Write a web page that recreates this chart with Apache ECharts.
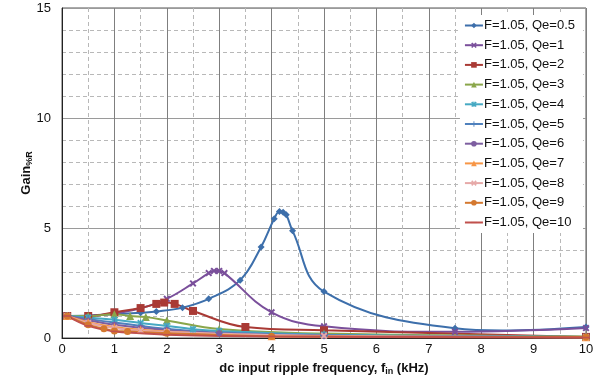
<!DOCTYPE html>
<html>
<head>
<meta charset="utf-8">
<script src="https://cdn.jsdelivr.net/npm/echarts@6/dist/echarts.min.js"></script>
<style>
  html, body { margin: 0; padding: 0; background: #fff; }
  #chart { width: 602px; height: 381px; }
</style>
</head>
<body>
<div id="chart"></div>
<script>
// values, [frequency kHz, gain]
const qe05 = [[0.1, 1.0], [0.5, 1.02], [1, 1.08], [1.5, 1.15], [1.8, 1.2], [2.3, 1.38], [2.8, 1.78], [3.4, 2.63], [3.8, 4.14], [4.05, 5.42], [4.15, 5.75], [4.22, 5.72], [4.28, 5.6], [4.4, 4.87], [5, 2.11], [7.5, 0.44], [8.4, 0.34], [10, 0.5]];
const qe1 = [[0.1, 1.0], [0.5, 1.0], [1, 1.12], [1.5, 1.35], [2, 1.78], [2.5, 2.48], [2.8, 2.95], [2.9, 3.05], [3.0, 3.05], [3.1, 2.95], [4, 1.17], [5, 0.53], [7.5, 0.28], [10, 0.45]];
const qe2 = [[0.1, 1.0], [0.5, 1.0], [1, 1.17], [1.5, 1.36], [1.8, 1.55], [1.95, 1.61], [2.15, 1.55], [2.5, 1.23], [3.5, 0.5], [5, 0.35], [10, 0.05]];
const qe3 = [[0.1, 1.0], [0.5, 1.0], [1, 1.08], [1.3, 1.0], [1.6, 0.95], [2, 0.8], [3, 0.41], [5, 0.2], [10, 0.07]];
const qe4 = [[0.1, 1.0], [0.5, 0.93], [1, 0.83], [1.5, 0.68], [2, 0.55], [2.5, 0.4], [3, 0.32], [5, 0.15], [10, 0.05]];
const qe5 = [[0.1, 1.0], [0.5, 0.86], [1, 0.7], [1.5, 0.55], [2, 0.42], [3, 0.25], [5, 0.12], [10, 0.04]];
const qe6 = [[0.1, 1.0], [0.5, 0.8], [1, 0.6], [1.5, 0.47], [2, 0.36], [3, 0.22], [5, 0.1], [10, 0.03]];
const qe7 = [[0.1, 1.0], [0.5, 0.72], [1, 0.5], [1.5, 0.38], [2, 0.3], [4, 0.08], [10, 0.03]];
const qe8 = [[0.1, 1.0], [0.5, 0.68], [1, 0.45], [1.5, 0.33], [2, 0.27], [5, 0.1], [10, 0.03]];
const qe9 = [[0.1, 1.0], [0.5, 0.6], [0.8, 0.42], [1, 0.32], [1.25, 0.3], [2, 0.22], [4, 0.08], [10, 0.04]];
const qe10 = [[0.1, 1.0], [0.5, 0.55], [1, 0.3], [1.5, 0.22], [2, 0.15], [4, 0.07], [10, 0.02]];
// the Qe=0.5 curve dips between its 7.5 and 10 markers; that point has no marker
const hiddenMarks = { 0: [8.4] };

const names = ['F=1.05, Qe=0.5', 'F=1.05, Qe=1', 'F=1.05, Qe=2', 'F=1.05, Qe=3', 'F=1.05, Qe=4',
  'F=1.05, Qe=5', 'F=1.05, Qe=6', 'F=1.05, Qe=7', 'F=1.05, Qe=8', 'F=1.05, Qe=9', 'F=1.05, Qe=10'];
const allData = [qe05, qe1, qe2, qe3, qe4, qe5, qe6, qe7, qe8, qe9, qe10];
const colors = ['#3d6fab', '#7a4f9b', '#a93a35', '#8aa64a', '#46a9c3', '#4f81bd', '#7d5ea0', '#f79646', '#e6a9a8', '#d4782f', '#c0504d'];

const xMark = 'path://M2,0L5,3L8,0L10,2L7,5L10,8L8,10L5,7L2,10L0,8L3,5L0,2Z';
const starMark = 'path://M2,0L5,3L8,0L10,2L7,5L10,8L8,10L5,7L2,10L0,8L3,5L0,2ZM4.2,0H5.8V10H4.2Z';
const plusMark = 'path://M4.2,0H5.8V4.2H10V5.8H5.8V10H4.2V5.8H0V4.2H4.2Z';
const dashMark = 'path://M0,0L0,0M0,4H10V6H0ZM10,10L10,10';
const symbols = ['diamond', xMark, 'rect', 'triangle', starMark, plusMark, 'circle', 'triangle', xMark, 'circle', dashMark];
const sizes = [7, 7, 8, 8, 7, 8, 6, 8, 7, 7, 8];

const chart = echarts.init(document.getElementById('chart'));

const font = 'Liberation Sans, Arial, sans-serif';

const subRich = {
  b: { fontSize: 13, fontWeight: 'bold', color: '#111', fontFamily: font },
  s: { fontSize: 9, fontWeight: 'bold', color: '#111', fontFamily: font, verticalAlign: 'bottom', padding: [6, 0, 0, 0] }
};

chart.setOption({
  animation: false,
  color: colors,
  textStyle: { fontFamily: font },
  grid: {
    left: 62, right: 16, top: 8, bottom: 41,
    show: true, borderColor: '#555', borderWidth: 1
  },
  legend: {
    orient: 'vertical',
    right: 19,
    top: 15,
    backgroundColor: '#fff',
    padding: [4, 8, 4, 4],
    itemWidth: 18,
    itemHeight: 7,
    itemGap: 6.7,
    textStyle: { fontSize: 13, color: '#111', fontFamily: font, padding: [0, 0, 0, -4] },
    data: names
  },
  xAxis: {
    type: 'value',
    min: 0, max: 10, interval: 1,
    name: '{b|dc input ripple frequency, f}{s|in}{b| (kHz)}',
    nameLocation: 'middle',
    nameGap: 23,
    nameMoveOverlap: false,
    nameTextStyle: { rich: subRich },
    axisLine: { lineStyle: { color: '#222' } },
    axisTick: { show: false },
    axisLabel: { fontSize: 13, color: '#111', margin: 5 },
    splitLine: { lineStyle: { color: '#7f7f7f', width: 1 } },
    minorTick: { show: false, splitNumber: 2 },
    minorSplitLine: { show: true, lineStyle: { color: '#b8b8b8', type: [4, 3] } }
  },
  yAxis: {
    type: 'value',
    min: 0, max: 15, interval: 5,
    name: '{b|Gain}{s|%R}',
    nameLocation: 'middle',
    nameGap: 28,
    nameMoveOverlap: false,
    nameTextStyle: { rich: subRich },
    axisLine: { show: true, lineStyle: { color: '#222' } },
    axisTick: { show: false },
    axisLabel: { fontSize: 13, color: '#111', margin: 11 },
    splitLine: { lineStyle: { color: '#9a9a9a', width: 1 } },
    minorTick: { show: false, splitNumber: 5 },
    minorSplitLine: { show: true, lineStyle: { color: '#b8b8b8', type: [4, 3] } }
  },
  series: allData.map((d, i) => ({
    name: names[i],
    type: 'line',
    data: d.map(p => (hiddenMarks[i] || []).includes(p[0]) ? { value: p, symbol: 'none' } : p),
    smooth: 0.4,
    symbol: symbols[i],
    symbolSize: sizes[i],
    showSymbol: true,
    lineStyle: { width: 2 },
    itemStyle: { color: colors[i] }
  }))
});
</script>
</body>
</html>
